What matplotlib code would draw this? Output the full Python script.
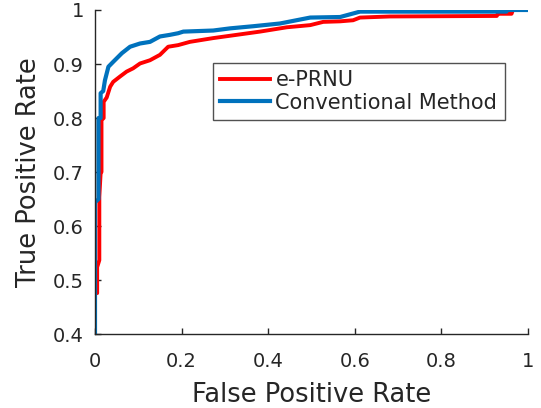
import numpy as np
import matplotlib.pyplot as plt

# --- ROC curves ---
fpr_eprnu = [0.0, 0.0, 0.005, 0.005, 0.010, 0.010, 0.013, 0.015, 0.015, 0.020,
             0.020, 0.027, 0.035, 0.042, 0.058, 0.073, 0.088, 0.104, 0.127, 0.150,
             0.169, 0.192, 0.219, 0.273, 0.327, 0.381, 0.443, 0.497, 0.527, 0.566,
             0.596, 0.612, 0.681, 0.928, 0.930, 0.962, 0.965, 1.0]
tpr_eprnu = [0.0, 0.476, 0.476, 0.524, 0.537, 0.654, 0.698, 0.700, 0.796, 0.800,
             0.830, 0.838, 0.858, 0.867, 0.877, 0.886, 0.892, 0.901, 0.907, 0.917,
             0.932, 0.935, 0.941, 0.948, 0.954, 0.960, 0.968, 0.972, 0.978, 0.979,
             0.981, 0.986, 0.988, 0.989, 0.993, 0.993, 1.0, 1.0]

fpr_conv = [0.0, 0.0, 0.008, 0.008, 0.013, 0.013, 0.019, 0.023, 0.031, 0.042,
            0.062, 0.081, 0.104, 0.127, 0.150, 0.173, 0.192, 0.204, 0.273, 0.312,
            0.366, 0.427, 0.497, 0.566, 0.589, 0.612, 0.950, 0.952, 1.0]
tpr_conv = [0.0, 0.644, 0.650, 0.800, 0.800, 0.846, 0.850, 0.870, 0.895, 0.904,
            0.920, 0.932, 0.938, 0.941, 0.951, 0.954, 0.957, 0.960, 0.962, 0.966,
            0.970, 0.975, 0.986, 0.987, 0.992, 0.997, 0.997, 1.0, 1.0]

labels = ['e-PRNU', 'Conventional Method']
colors = ['#FF0000', '#0072BD']
dark = '#262626'

fig = plt.figure(figsize=(5.41, 4.08), dpi=100)
ax = fig.add_axes([0.1756, 0.181, 0.8004, 0.7945])

ax.plot(fpr_eprnu, tpr_eprnu, color=colors[0], lw=2.8, label=labels[0])
ax.plot(fpr_conv, tpr_conv, color=colors[1], lw=3, label=labels[1])

ax.set_xlim(0, 1)
ax.set_ylim(0.4, 1)
ax.set_xticks(np.arange(0, 1.01, 0.2))
ax.set_yticks(np.arange(0.4, 1.01, 0.1))
ax.set_xticklabels(['0', '0.2', '0.4', '0.6', '0.8', '1'])
ax.set_yticklabels(['0.4', '0.5', '0.6', '0.7', '0.8', '0.9', '1'])

for s in ['top', 'right']:
    ax.spines[s].set_visible(False)
for s in ['left', 'bottom']:
    ax.spines[s].set_color(dark)
    ax.spines[s].set_linewidth(1.0)
ax.tick_params(direction='in', length=4, width=1, color=dark, labelcolor=dark,
               labelsize=14)
ax.tick_params(axis='y', pad=8)
ax.tick_params(axis='x', pad=13)

ax.set_xlabel('False Positive Rate', fontsize=18.5, color=dark, labelpad=8)
ax.set_ylabel('True Positive Rate', fontsize=18.5, color=dark, labelpad=8)

leg = ax.legend(loc='upper left', bbox_to_anchor=(0.2725, 0.836), borderaxespad=0,
                fontsize=15, handlelength=2.4, handletextpad=0.25, fancybox=False,
                labelspacing=0.1, borderpad=0.35)
leg.get_frame().set_edgecolor(dark)
leg.get_frame().set_linewidth(1.0)
for t in leg.get_texts():
    t.set_color(dark)

fig.savefig('out.png', dpi=100)
